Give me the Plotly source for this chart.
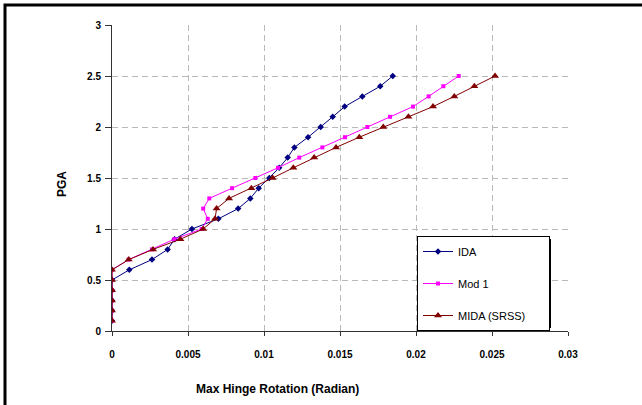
import plotly.graph_objects as go

pga = [0.1, 0.2, 0.3, 0.4, 0.5, 0.6, 0.7, 0.8, 0.9, 1.0, 1.1, 1.2, 1.3,
       1.4, 1.5, 1.6, 1.7, 1.8, 1.9, 2.0, 2.1, 2.2, 2.3, 2.4, 2.5]

ida = [0, 0, 0, 0, 0, 0.00114, 0.00263, 0.00366, 0.00412, 0.00526, 0.0070,
       0.0083, 0.0091, 0.00965, 0.01035, 0.0110, 0.01156, 0.0120, 0.0129,
       0.01373, 0.01452, 0.01531, 0.01647, 0.01765, 0.01847]

mod1 = [0, 0, 0, 0, 0, 0, 0.0011, 0.00263, 0.0041, 0.0059, 0.0063, 0.0060,
        0.0064, 0.0079, 0.00943, 0.01092, 0.01232, 0.01384, 0.01533, 0.0168,
        0.01829, 0.0198, 0.02083, 0.0218, 0.02281]

mida = [0, 0, 0, 0, 0, 0, 0.0011, 0.0027, 0.0045, 0.0060, 0.00678, 0.00688,
        0.0077, 0.00917, 0.01057, 0.01193, 0.0133, 0.01474, 0.01627, 0.01785,
        0.0195, 0.02112, 0.02252, 0.02384, 0.0252]

series_names = ["IDA", "Mod 1", "MIDA (SRSS)"]

x_ticks = [0, 0.005, 0.01, 0.015, 0.02, 0.025, 0.03]
x_labels = ["0", "0.005", "0.01", "0.015", "0.02", "0.025", "0.03"]
y_ticks = [0, 0.5, 1, 1.5, 2, 2.5, 3]
y_labels = ["0", "0.5", "1", "1.5", "2", "2.5", "3"]

W, H = 642, 405
L, R, T, B = 112, 74, 25, 74
pw, ph = W - L - R, H - T - B

def px_x(p):
    return (p - L) / pw

def px_y(p):
    return (H - B - p) / ph

pad = "\u00a0" * 6  # widen legend box like the original

fig = go.Figure()
fig.add_trace(go.Scatter(x=ida, y=pga, name=series_names[0], mode="lines+markers",
                         legendgroup="a",
                         line=dict(color="#000080", width=1),
                         marker=dict(symbol="diamond", size=5, color="#000080")))
fig.add_trace(go.Scatter(x=mod1, y=pga, name=series_names[1], mode="lines+markers",
                         legendgroup="b",
                         line=dict(color="#FF00FF", width=1),
                         marker=dict(symbol="square", size=4, color="#FF00FF")))
fig.add_trace(go.Scatter(x=mida, y=pga, name=series_names[2] + pad, mode="lines+markers",
                         legendgroup="c",
                         line=dict(color="#800000", width=1),
                         marker=dict(symbol="triangle-up", size=7, color="#800000")))

tick_font = dict(family="Liberation Sans, Arial", size=10, color="black", weight="bold")

fig.update_xaxes(range=[0, 0.03], tickvals=x_ticks, ticktext=x_labels,
                 showgrid=True, gridcolor="#b8b8b8", griddash="6px,4px", gridwidth=1,
                 showline=True, linecolor="#333333", linewidth=1,
                 ticks="outside", ticklen=4, tickcolor="#333333",
                 tickfont=tick_font, ticklabelstandoff=10, zeroline=False)
fig.update_yaxes(range=[0, 3], tickvals=y_ticks, ticktext=y_labels,
                 showgrid=True, gridcolor="#b8b8b8", griddash="6px,4px", gridwidth=1,
                 showline=True, linecolor="#333333", linewidth=1,
                 ticks="outside", ticklen=6, tickcolor="#333333",
                 tickfont=tick_font, ticklabelstandoff=2, zeroline=False)

shapes = [
    dict(type="rect", xref="paper", yref="paper",
         x0=px_x(5), x1=px_x(660), y0=px_y(420), y1=px_y(5),
         line=dict(color="black", width=3), fillcolor="rgba(0,0,0,0)", layer="above"),
    dict(type="rect", xref="paper", yref="paper",
         x0=px_x(420), x1=px_x(551), y0=px_y(328), y1=px_y(239),
         line=dict(width=0), fillcolor="black", layer="above"),
]

annotations = [
    dict(text="<b>Max Hinge Rotation (Radian)</b>", xref="paper", yref="paper",
         x=px_x(277), y=px_y(389), xanchor="center", yanchor="middle", showarrow=False,
         font=dict(family="Liberation Sans, Arial", size=12, color="black")),
    dict(text="<b>PGA</b>", xref="paper", yref="paper",
         x=px_x(62), y=px_y(184), xanchor="center", yanchor="middle", showarrow=False,
         textangle=-90, font=dict(family="Liberation Sans, Arial", size=12, color="black")),
]

fig.update_layout(
    width=W, height=H,
    margin=dict(l=L, r=R, t=T, b=B),
    paper_bgcolor="white", plot_bgcolor="white",
    showlegend=True,
    legend=dict(x=px_x(417), y=px_y(236), xanchor="left", yanchor="top",
                bgcolor="white", bordercolor="black", borderwidth=1,
                font=dict(family="Liberation Sans, Arial", size=11, color="black"),
                tracegroupgap=13, itemwidth=30),
    shapes=shapes, annotations=annotations,
)

fig.write_html("out.html")
